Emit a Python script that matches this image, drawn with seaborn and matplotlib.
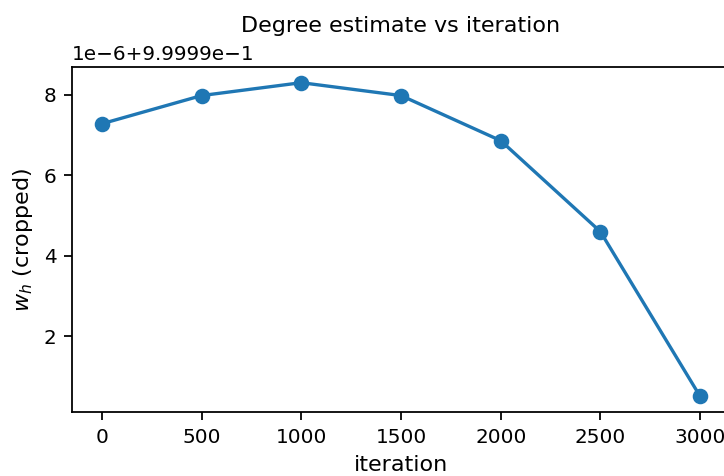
import matplotlib
matplotlib.use("Agg")
import matplotlib.pyplot as plt
import seaborn as sns
import pandas as pd

iterations = [0, 500, 1000, 1500, 2000, 2500, 3000]
w_h = [0.99999728, 0.99999798, 0.99999830, 0.99999798, 0.99999686, 0.99999460, 0.99999051]

df = pd.DataFrame({"iteration": iterations, "w_h": w_h})

plt.rcParams["xtick.labelsize"] = 9
plt.rcParams["ytick.labelsize"] = 9
plt.rcParams["axes.labelsize"] = 10
plt.rcParams["axes.titlesize"] = 10

dpi = 160
fig = plt.figure(figsize=(724 / dpi, 476 / dpi), dpi=dpi)
ax = fig.add_axes([72 / 724, 1 - 412 / 476, 658 / 724, 345 / 476])
sns.lineplot(data=df, x="iteration", y="w_h", ax=ax, marker="o",
             color="#1f77b4", linewidth=1.5, markersize=6,
             markeredgecolor="#1f77b4", markeredgewidth=1)
ax.set_title("Degree estimate vs iteration")
ax.set_xlabel("iteration")
ax.set_ylabel("$w_h$ (cropped)")
ax.set_xticks(iterations)
fig.savefig("out.png", dpi=dpi)
